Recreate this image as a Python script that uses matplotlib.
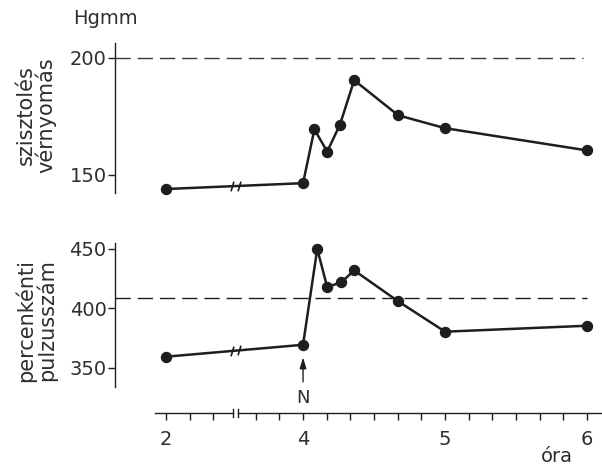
import numpy as np
import matplotlib.pyplot as plt

# measurement times (hours) and values
times_bp = [2, 4, 4.08, 4.17, 4.26, 4.36, 4.67, 5, 6]
systolic = [144, 146.5, 169.5, 160, 171.5, 190.5, 175.5, 170, 160.5]

times_hr = [2, 4, 4.1, 4.17, 4.27, 4.36, 4.67, 5, 6]
pulse = [359.5, 369.5, 450, 418, 422, 432, 406, 380.5, 385.5]

bp_ref = 200
pulse_ref = 409

major_ticks = [2, 4, 5, 6]
major_labels = ['2', '4', '5', '6']

# broken time axis: the hour between lo and hi is squeezed into a small gap
LO, HI, GAP = 2.47, 3.54, 0.035


def fwd(t):
    t = np.asarray(t, dtype=float)
    mid = LO + (t - LO) * GAP / (HI - LO)
    return np.where(t <= LO, t, np.where(t >= HI, t - (HI - LO) + GAP, mid))


def inv(u):
    u = np.asarray(u, dtype=float)
    mid = LO + (u - LO) * (HI - LO) / GAP
    return np.where(u <= LO, u, np.where(u >= LO + GAP, u + (HI - LO) - GAP, mid))


ink = '#1e1e1e'
txt = '#2e2e2e'
plt.rcParams['font.family'] = 'DejaVu Sans'
plt.rcParams['text.color'] = txt

fig = plt.figure(figsize=(6.02, 4.66), dpi=100)
ax1 = fig.add_axes([115 / 602, 1 - 193 / 466, 487 / 602, 150 / 466])
ax2 = fig.add_axes([115 / 602, 1 - 413 / 466, 487 / 602, 170 / 466])

for ax in (ax1, ax2):
    ax.set_xscale('function', functions=(fwd, inv))
    ax.set_xlim(1.641, 6.105)
    ax.patch.set_visible(False)
    for s in ('top', 'right', 'bottom'):
        ax.spines[s].set_visible(False)
    ax.spines['left'].set_color(ink)
    ax.spines['left'].set_linewidth(1.0)
    ax.tick_params(axis='y', direction='out', length=5, width=1.0,
                   color=ink, labelsize=14, labelcolor=txt, pad=1)

# upper panel: systolic pressure
ax1.set_ylim(142.3, 206.4)
ax1.spines['left'].set_bounds(142.3, 206.4)
ax1.set_yticks([150, 200])
ax1.tick_params(axis='x', bottom=False, labelbottom=False)
ax1.axhline(bp_ref, xmin=0, xmax=0.961, color='#3a3a30', lw=1.0,
            dashes=(11, 5))
ax1.plot(times_bp, systolic, color=ink, lw=1.8, marker='o', ms=7.2,
         mfc=ink, mec=ink, zorder=3, clip_on=False)

# lower panel: pulse
ax2.set_ylim(312.2, 455.0)
ax2.spines['left'].set_bounds(334, 455)
ax2.set_yticks([350, 400, 450])
ax2.axhline(pulse_ref, xmin=0, xmax=0.969, color=ink, lw=1.0,
            dashes=(11, 5))
ax2.plot(times_hr, pulse, color=ink, lw=1.8, marker='o', ms=7.2,
         mfc=ink, mec=ink, zorder=3, clip_on=False)

# break marks on the first line segment of each curve
slash = [(-0.3, -1.0), (0.3, 1.0)]
for ax, t, v in ((ax1, times_bp, systolic), (ax2, times_hr, pulse)):
    for u in (LO - 0.008, LO + GAP + 0.008):
        yb = np.interp(u, fwd(t[:2]), v[:2])
        ax.plot(inv(u), yb, marker=slash, ms=7, mec=ink, mew=1.2,
                ls='none', zorder=4)

# time axis drawn in two pieces with a gap
xt = ax2.get_xaxis_transform()
for a, b in ((1.923, LO), (HI, 6.105)):
    ax2.plot([a, b], [0, 0], color=ink, lw=1.0, transform=xt, clip_on=False)
for t in (LO, HI):
    ax2.plot([t, t], [-0.022, 0.022], color=ink, lw=1.0, transform=xt,
             clip_on=False)

minor = [2 + 1 / 6, 2 + 2 / 6, 3 + 4 / 6, 3 + 5 / 6]
minor += [h + k / 6 for h in (4, 5) for k in range(1, 6)]
ax2.set_xticks(major_ticks)
ax2.set_xticklabels(major_labels)
ax2.set_xticks(minor, minor=True)
ax2.tick_params(axis='x', which='both', direction='out', length=5,
                width=1.0, color=ink, labelsize=14, labelcolor=txt, pad=7)

# injection marker
ax2.annotate('N', xy=(4, 359), xytext=(4, 325), ha='center', va='center',
             fontsize=13, color=txt,
             arrowprops=dict(arrowstyle='-|>,head_width=0.15,head_length=0.5',
                             color=ink, lw=1.0, shrinkA=3, shrinkB=0))

fig.text(105 / 602, 1 - 19 / 466, 'Hgmm', ha='center', va='center',
         fontsize=14)
fig.text(36 / 602, 1 - 115 / 466, 'szisztolés\nvérnyomás', rotation=90,
         ha='center', va='center', fontsize=15, linespacing=0.95)
fig.text(36 / 602, 1 - 320 / 466, 'percenkénti\npulzusszám', rotation=90,
         ha='center', va='center', fontsize=15, linespacing=0.95)
fig.text(557 / 602, 1 - 457 / 466, 'óra', ha='center', va='center',
         fontsize=14)

fig.savefig('out.png', dpi=100)
